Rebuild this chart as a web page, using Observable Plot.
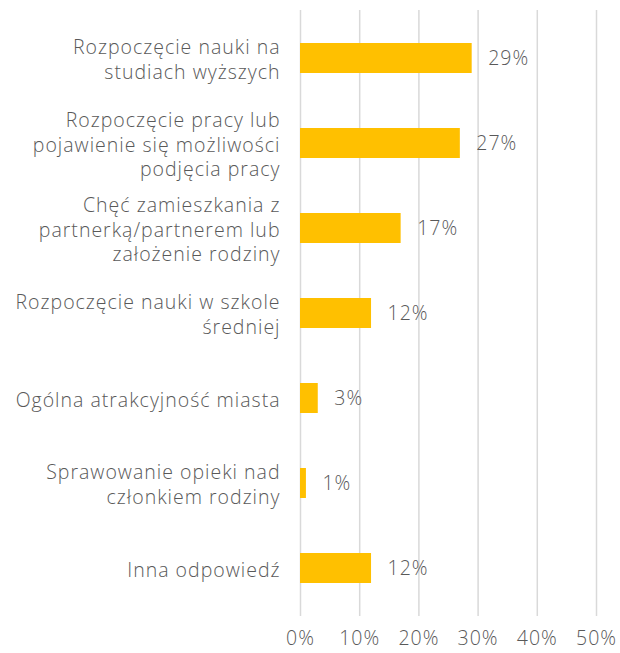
<!DOCTYPE html>
<html>
<head>
<meta charset="utf-8">
<script src="https://cdn.jsdelivr.net/npm/d3@7"></script>
<script src="https://cdn.jsdelivr.net/npm/@observablehq/plot@0.6"></script>
<style>
  html, body { margin: 0; padding: 0; background: #fff; }
  #chart { width: 620px; height: 653px; }
</style>
</head>
<body>
<div id="chart"></div>
<script>
const categories = [
  "Rozpoczęcie nauki na\nstudiach wyższych",
  "Rozpoczęcie pracy lub\npojawienie się możliwości\npodjęcia pracy",
  "Chęć zamieszkania z\npartnerką/partnerem lub\nzałożenie rodziny",
  "Rozpoczęcie nauki w szkole\nśredniej",
  "Ogólna atrakcyjność miasta",
  "Sprawowanie opieki nad\nczłonkiem rodziny",
  "Inna odpowiedź"
];
const values = [29, 27, 17, 12, 3, 1, 12];
const valueLabels = ["29%", "27%", "17%", "12%", "3%", "1%", "12%"];
const xTicks = [0, 10, 20, 30, 40, 50];
const xTickLabels = ["0%", "10%", "20%", "30%", "40%", "50%"];

const data = categories.map((c, i) => ({category: c, value: values[i], label: valueLabels[i]}));
const textColor = "#595959";
const font = "'Open Sans', sans-serif";
const fs = 19.5;

const chart = Plot.plot({
  width: 620,
  height: 653,
  marginTop: 10,
  marginBottom: 37,
  marginLeft: 300,
  marginRight: 24,
  style: {fontFamily: font, fontWeight: 300, color: textColor, background: "#fff", letterSpacing: "1px"},
  x: {domain: [0, 50], ticks: xTicks, label: null},
  y: {domain: categories, paddingInner: 0.65, paddingOuter: 0.37, label: null},
  marks: [
    Plot.ruleX(xTicks, {stroke: "#d9d9d9", strokeWidth: 1.5}),
    Plot.barX(data, {x: "value", y: "category", fill: "#FFC000"}),
    Plot.text(data, {x: "value", y: "category", text: "label", textAnchor: "start", dx: 16,
      fill: textColor, fontSize: fs, fontWeight: 300}),
    Plot.text(data, {x: 0, y: "category", text: "category", textAnchor: "end", dx: -20,
      fill: textColor, fontSize: fs, fontWeight: 300, lineHeight: 1.28}),
    Plot.axisX({ticks: xTicks, tickFormat: d => xTickLabels[xTicks.indexOf(d)], tickSize: 0, tickPadding: 15,
      fontSize: fs, fontWeight: 300, fill: textColor, label: null}),
    Plot.axisY({ticks: [], tickSize: 0, label: null})
  ]
});
document.getElementById("chart").appendChild(chart);
</script>
</body>
</html>
